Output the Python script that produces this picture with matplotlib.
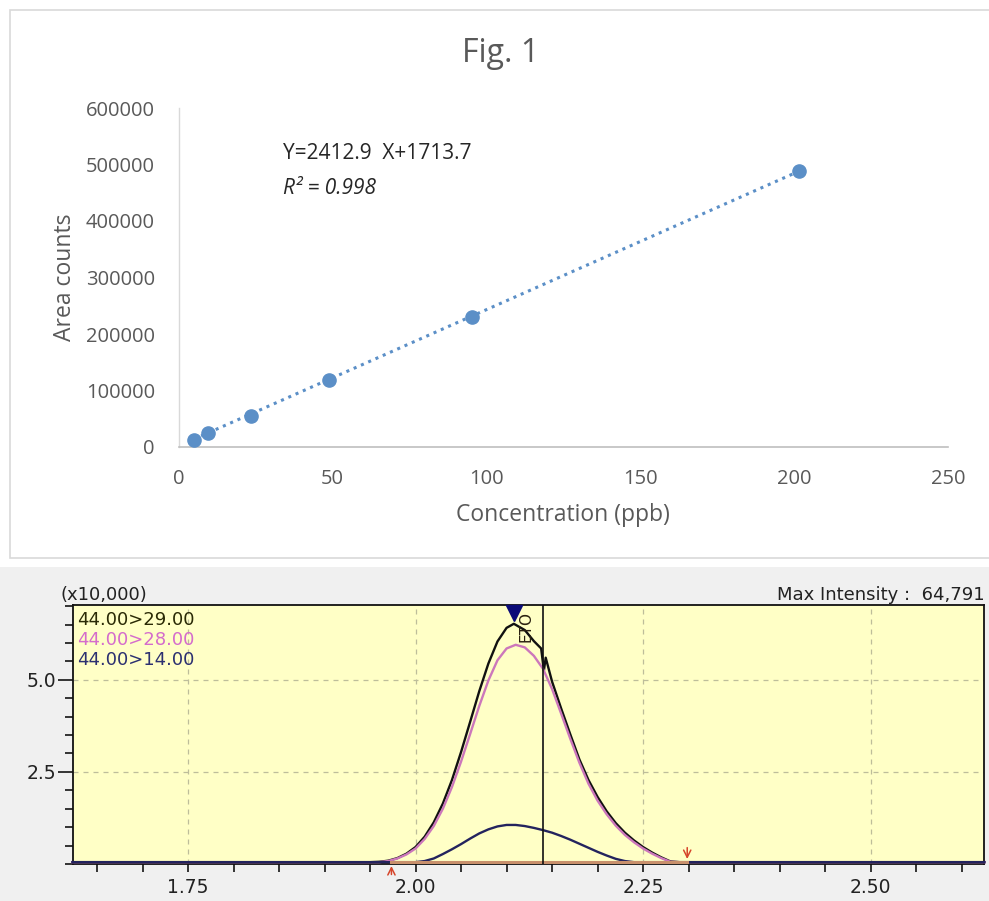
import matplotlib

matplotlib.use("Agg")
import matplotlib.pyplot as plt
from matplotlib.patches import Rectangle
from matplotlib.ticker import MultipleLocator, FixedLocator

# ---- calibration curve (top panel) ----
conc_ppb = [5.0, 9.6, 23.5, 49.0, 95.5, 201.5]
area_counts = [12000, 24000, 55000, 119000, 230000, 488000]
trend_slope = 2412.9
trend_intercept = 1713.7
x_ticks_top = [0, 50, 100, 150, 200, 250]
y_ticks_top = [0, 100000, 200000, 300000, 400000, 500000, 600000]

# ---- chromatogram (bottom panel), intensity in units of 10,000 ----
black_x = [1.623, 1.95, 1.96, 1.97, 1.98, 1.99, 2.00, 2.01, 2.02, 2.03, 2.04, 2.05,
           2.06, 2.07, 2.08, 2.09, 2.10, 2.108, 2.12, 2.13, 2.138, 2.141, 2.143,
           2.15, 2.16, 2.17, 2.18, 2.19, 2.20, 2.21, 2.22, 2.23, 2.24, 2.25, 2.26,
           2.27, 2.28, 2.29, 2.625]
black_y = [0.05, 0.05, 0.06, 0.09, 0.16, 0.28, 0.46, 0.74, 1.13, 1.64, 2.28, 3.04,
           3.86, 4.69, 5.44, 6.04, 6.41, 6.52, 6.35, 6.05, 5.85, 5.25, 5.60,
           4.95, 4.22, 3.52, 2.84, 2.28, 1.82, 1.43, 1.11, 0.85, 0.64, 0.46, 0.31,
           0.18, 0.07, 0.05, 0.05]
pink_x = [1.623, 1.96, 1.97, 1.98, 1.99, 2.00, 2.01, 2.02, 2.03, 2.04, 2.05, 2.06,
          2.07, 2.08, 2.09, 2.10, 2.11, 2.12, 2.13, 2.14, 2.15, 2.16, 2.17, 2.18,
          2.19, 2.20, 2.21, 2.22, 2.23, 2.24, 2.25, 2.26, 2.27, 2.28, 2.29, 2.625]
pink_y = [0.05, 0.05, 0.08, 0.15, 0.26, 0.42, 0.68, 1.03, 1.50, 2.09, 2.78, 3.53,
          4.29, 4.98, 5.53, 5.85, 5.95, 5.88, 5.65, 5.30, 4.75, 4.08, 3.40, 2.75,
          2.18, 1.72, 1.35, 1.04, 0.79, 0.59, 0.42, 0.28, 0.16, 0.06, 0.05, 0.05]
navy_x = [1.623, 2.00, 2.01, 2.02, 2.03, 2.04, 2.05, 2.06, 2.07, 2.08, 2.09, 2.10,
          2.11, 2.12, 2.13, 2.14, 2.15, 2.16, 2.17, 2.18, 2.19, 2.20, 2.21, 2.22,
          2.23, 2.24, 2.25, 2.625]
navy_y = [0.05, 0.05, 0.08, 0.15, 0.27, 0.40, 0.54, 0.69, 0.83, 0.94, 1.02, 1.06,
          1.06, 1.03, 0.98, 0.92, 0.85, 0.76, 0.66, 0.55, 0.44, 0.33, 0.23, 0.14,
          0.08, 0.05, 0.05, 0.05]
trace_labels = ["44.00>29.00", "44.00>28.00", "44.00>14.00"]
trace_colors = ["#111111", "#cc77bb", "#23235e"]
label_colors = ["#2a2a05", "#d46ccc", "#2c3070"]
peak_rt = 2.108
cursor_rt = 2.1405
integ_start = 1.9735
integ_end = 2.2985
max_intensity = "64,791"

W, H = 989, 901
fig = plt.figure(figsize=(W / 100, H / 100), dpi=100, facecolor="white")

# panel backgrounds
fig.patches.append(Rectangle((0, 0), 1, 1 - 567 / H, transform=fig.transFigure,
                             facecolor="#f0f0f0", edgecolor="none", zorder=-10))
fig.patches.append(Rectangle((10 / W, 1 - 558 / H), 985 / W, 548 / H,
                             transform=fig.transFigure, facecolor="white",
                             edgecolor="#d9d9d9", lw=1.2, zorder=-9))

# ================= top: calibration curve =================
top_font = "Open Sans"
grey = "#595959"
ax1 = fig.add_axes([178.5 / W, 1 - 447 / H, (948 - 178.5) / W, (447 - 108) / H])
ax1.set_facecolor("none")
ax1.set_xlim(0, 250)
ax1.set_ylim(0, 600000)
ax1.xaxis.set_major_locator(FixedLocator(x_ticks_top))
ax1.yaxis.set_major_locator(FixedLocator(y_ticks_top))
ax1.set_xticklabels([str(t) for t in x_ticks_top])
ax1.set_yticklabels([str(t) for t in y_ticks_top])
for side in ("top", "right"):
    ax1.spines[side].set_visible(False)
ax1.spines["left"].set_color("#d9d9d9")
ax1.spines["bottom"].set_color("#bfbfbf")
ax1.spines["left"].set_linewidth(1.0)
ax1.spines["bottom"].set_linewidth(1.2)
ax1.tick_params(axis="x", length=0, pad=16, labelsize=14.5, labelcolor=grey)
ax1.tick_params(axis="y", length=0, pad=17, labelsize=14.5, labelcolor=grey)
for lab in ax1.get_xticklabels() + ax1.get_yticklabels():
    lab.set_fontfamily(top_font)

fit_x = [min(conc_ppb), max(conc_ppb)]
fit_y = [trend_slope * v + trend_intercept for v in fit_x]
ax1.plot(fit_x, fit_y, linestyle=(0, (1, 1.6)), color="#5b8fc7", lw=2.2, zorder=2)
ax1.plot(conc_ppb, area_counts, "o", color="#5b8fc7", ms=9.5, mec="#5b8fc7", zorder=3)

ax1.set_xlabel("Concentration (ppb)", fontsize=16.5, color=grey, family=top_font,
               labelpad=10)
ax1.set_ylabel("Area counts", fontsize=16.5, color=grey, family=top_font, labelpad=6)
ax1.text(34, 519000, f"Y={trend_slope}  X+{trend_intercept}", fontsize=15,
         color="#262626", family=top_font, va="center")
ax1.text(34, 458000, "R\u00b2 = 0.998", fontsize=15, color="#262626",
         family=top_font, style="italic", va="center")
fig.text(501 / W, 1 - 54 / H, "Fig. 1", fontsize=23, color=grey, family=top_font,
         ha="center", va="center")

# ================= bottom: chromatogram =================
bot_font = "DejaVu Sans"
ax2 = fig.add_axes([73 / W, 1 - 864 / H, (984 - 73) / W, (864 - 605) / H])
ax2.set_facecolor("#ffffc6")
ax2.set_xlim(1.6236, 2.6246)
ax2.set_ylim(0, 7.03)
ax2.xaxis.set_major_locator(MultipleLocator(0.25))
ax2.xaxis.set_minor_locator(MultipleLocator(0.05))
ax2.yaxis.set_major_locator(FixedLocator([2.5, 5.0]))
ax2.yaxis.set_minor_locator(MultipleLocator(0.5))
ax2.xaxis.set_major_formatter(plt.FuncFormatter(lambda v, p: f"{v:.2f}"))
ax2.yaxis.set_major_formatter(plt.FuncFormatter(lambda v, p: f"{v:.1f}"))
ax2.grid(True, which="major", color="#bdbd9a", linestyle=(0, (4, 4)), lw=0.9)
ax2.set_axisbelow(True)
for sp in ax2.spines.values():
    sp.set_color("#111111")
    sp.set_linewidth(1.3)
ax2.tick_params(axis="x", which="both", direction="out", length=6, width=1.1,
                pad=4, labelsize=13.5, labelcolor="#222222")
ax2.tick_params(axis="y", which="major", direction="out", length=11, width=1.1,
                pad=1, labelsize=13.5, labelcolor="#222222")
ax2.tick_params(axis="y", which="minor", direction="out", length=6, width=1.1)
for lab in ax2.get_xticklabels() + ax2.get_yticklabels():
    lab.set_fontfamily(bot_font)

for xs, ys, col in zip([black_x, pink_x, navy_x], [black_y, pink_y, navy_y],
                       trace_colors):
    ax2.plot(xs, ys, color=col, lw=1.7, zorder=3, clip_on=False)

# integration baseline and start/end marks
ax2.plot([integ_start, integ_end], [0.06, 0.06], color="#c8906c", lw=2.2, zorder=4)
ax2.annotate("", xy=(integ_start, 0.02), xytext=(integ_start, -0.36),
             arrowprops=dict(arrowstyle="->", color="#d6452a", lw=1.1,
                             mutation_scale=13),
             annotation_clip=False, zorder=5)
ax2.annotate("", xy=(integ_end, 0.06), xytext=(integ_end, 0.52),
             arrowprops=dict(arrowstyle="->", color="#d6452a", lw=1.1,
                             mutation_scale=13),
             annotation_clip=False, zorder=5)

# cursor line, peak top marker and peak name
ax2.axvline(cursor_rt, color="#111111", lw=1.2, zorder=4)
ax2.plot([peak_rt], [6.8], marker="v", ms=11, color="#0a0a78", zorder=6,
         clip_on=False)
ax2.text(peak_rt + 0.0135, 6.86, "ETO", rotation=90, ha="center", va="top",
         fontsize=11, color="#2a2010", family=bot_font, zorder=6)

for i, (lab, col) in enumerate(zip(trace_labels, label_colors)):
    ax2.text(0.005, (864 - 620 - 20 * i) / 259, lab, transform=ax2.transAxes,
             fontsize=13, color=col, family=bot_font, va="center", ha="left")

fig.text(60 / W, 1 - 595 / H, "(x10,000)", fontsize=13, color="#222222",
         family=bot_font, va="center", ha="left")
fig.text(985 / W, 1 - 595 / H, f"Max Intensity :  {max_intensity}", fontsize=13,
         color="#222222", family=bot_font, va="center", ha="right")

fig.savefig("out.png", dpi=100, facecolor="white")
